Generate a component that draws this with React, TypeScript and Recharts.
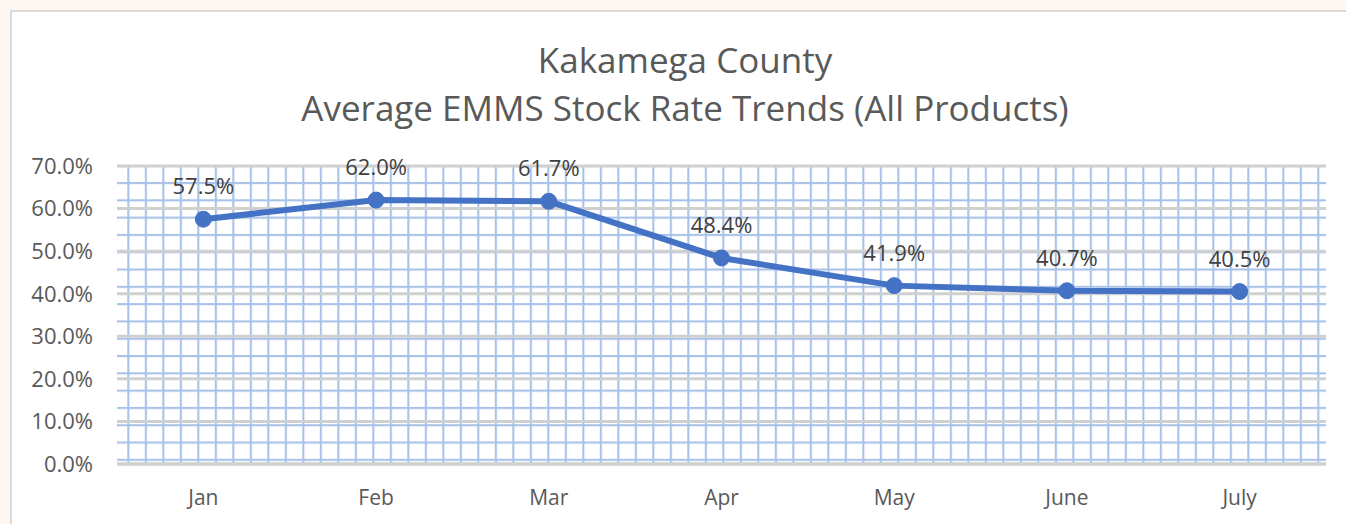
import React from "react";
import { LineChart, Line, XAxis, YAxis, CartesianGrid, LabelList } from "recharts";

const months = ["Jan", "Feb", "Mar", "Apr", "May", "June", "July"];
const stockRate = [57.5, 62.0, 61.7, 48.4, 41.9, 40.7, 40.5];
const yTicks = [0, 10, 20, 30, 40, 50, 60, 70];
const titleLines = ["Kakamega County", "Average EMMS Stock Rate Trends (All Products)"];

const data = months.map((m, i) => ({ month: m, rate: stockRate[i] }));
const fmt = (v: number) => `${Number(v).toFixed(1)}%`;
const FONT = "'Open Sans', sans-serif";

export default function App() {
  return (
    <div style={{ position: "fixed", left: 0, top: 0, width: 1346, height: 524, background: "#FDF6F1", overflow: "hidden", fontFamily: FONT }}>
      <div style={{ position: "absolute", left: 10, top: 10, width: 1360, height: 560, background: "#FFFFFF", border: "2px solid #D9D9D9", boxSizing: "border-box" }} />
      <div style={{ position: "absolute", left: 0, top: 0 }}>
        <LineChart width={1346} height={524} data={data} margin={{ top: 166, right: 20, bottom: 30, left: 0 }}>
          <defs>
            <pattern id="paper" patternUnits="userSpaceOnUse" width={17.5} height={17.3} x={127.3} y={182}>
              <rect x={0} y={0} width={17.5} height={17.3} fill="#FFFFFF" />
              <line x1={1} y1={0} x2={1} y2={17.3} stroke="#A9C2EA" strokeWidth={2.2} />
              <line x1={0} y1={1} x2={17.5} y2={1} stroke="#A9C2EA" strokeWidth={2.2} />
            </pattern>
          </defs>
          <CartesianGrid vertical={false} stroke="#D0D0D0" strokeWidth={3} fill="url(#paper)" fillOpacity={1} />
          <XAxis
            dataKey="month"
            scale="band"
            height={30}
            axisLine={{ stroke: "#D0D0D0", strokeWidth: 3 }}
            tickLine={false}
            tick={{ fill: "#595959", fontSize: 21, fontFamily: FONT }}
            tickMargin={20}
          />
          <YAxis
            domain={[0, 70]}
            ticks={yTicks}
            tickFormatter={fmt}
            axisLine={false}
            tickLine={false}
            width={117}
            tickSize={0}
            tickMargin={24}
            tick={{ fill: "#595959", fontSize: 22, fontFamily: FONT }}
            interval={0}
          />
          <Line
            dataKey="rate"
            stroke="#4472C4"
            strokeWidth={6}
            dot={{ r: 8, fill: "#4472C4", stroke: "#4472C4", strokeWidth: 1 }}
            activeDot={false}
            isAnimationActive={false}
          >
            <LabelList dataKey="rate" position="top" offset={25} formatter={fmt} style={{ fill: "#404040", fontSize: 22, fontFamily: FONT }} />
          </Line>
        </LineChart>
      </div>
      <div style={{ position: "absolute", left: 0, width: 1370, top: 36, textAlign: "center", color: "#595959", fontSize: 35, lineHeight: "48px" }}>
        {titleLines.map((t) => (
          <div key={t}>{t}</div>
        ))}
      </div>
    </div>
  );
}
